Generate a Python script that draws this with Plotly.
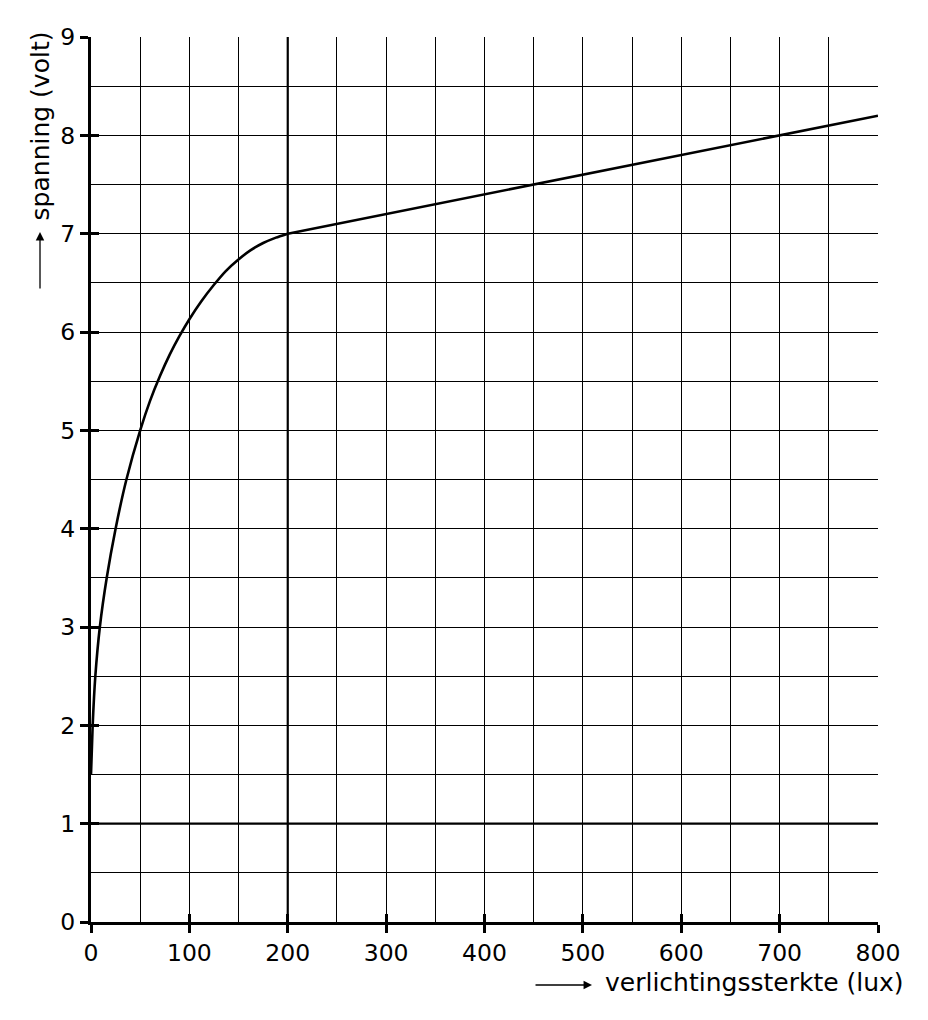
import plotly.graph_objects as go

curve_lux = [0, 1.7, 4.4, 9, 16, 25, 36, 50, 60, 70, 80, 90, 100, 112, 125, 137, 149, 162, 175, 188, 200]
curve_volt = [1.5, 2.0, 2.5, 3.0, 3.5, 4.0, 4.5, 5.0, 5.3, 5.55, 5.77, 5.96, 6.13, 6.31, 6.48,
              6.62, 6.73, 6.83, 6.905, 6.96, 7.0]

# recht deel (200 - 800 lux)
line_lux = [200, 800]
line_volt = [7.0, 8.2]

x_ticks = [0, 100, 200, 300, 400, 500, 600, 700, 800]
y_ticks = [0, 1, 2, 3, 4, 5, 6, 7, 8, 9]

# dikkere hulplijnen
ref_lux = [200]
ref_volt = [1]

FONT = "DejaVu Sans"

fig = go.Figure()

fig.add_trace(go.Scatter(
    x=curve_lux, y=curve_volt, mode="lines",
    line=dict(color="black", width=2.6, shape="spline", smoothing=0.5),
    showlegend=False, hoverinfo="skip"
))
fig.add_trace(go.Scatter(
    x=line_lux, y=line_volt, mode="lines",
    line=dict(color="black", width=2.6),
    showlegend=False, hoverinfo="skip"
))
# onzichtbare trace zodat de tweede assen (streepjes naar binnen) getekend worden
fig.add_trace(go.Scatter(x=line_lux, y=line_volt, xaxis="x2", yaxis="y2",
                         mode="none", showlegend=False, hoverinfo="skip"))

for v in ref_lux:
    fig.add_vline(x=v, line=dict(color="black", width=2.2), layer="below")
for v in ref_volt:
    fig.add_hline(y=v, line=dict(color="black", width=2.2), layer="below")

tick_font = dict(family=FONT, size=23.5, color="black")

fig.update_xaxes(
    range=[0, 800], tickvals=x_ticks, showgrid=True, gridcolor="black", gridwidth=1,
    minor=dict(dtick=50, showgrid=True, gridcolor="black", gridwidth=1),
    showline=True, linecolor="black", linewidth=3,
    ticks="outside", ticklen=8, tickwidth=2.5, tickcolor="black",
    tickfont=tick_font, zeroline=False
)
fig.update_yaxes(
    range=[0, 9], tickvals=y_ticks, showgrid=True, gridcolor="black", gridwidth=1,
    minor=dict(dtick=0.5, showgrid=True, gridcolor="black", gridwidth=1),
    showline=True, linecolor="black", linewidth=3,
    ticks="outside", ticklen=8, tickwidth=2.5, tickcolor="black",
    tickfont=tick_font, zeroline=False
)

# asbijschriften met pijltjes
fig.add_annotation(
    text="verlichtingssterkte (lux)", xref="paper", yref="paper",
    x=1.035, y=-0.0678, xanchor="right", yanchor="middle", showarrow=False,
    font=dict(family=FONT, size=25, color="black")
)
fig.add_annotation(
    text="", xref="paper", yref="paper", x=0.6366, y=-0.0712,
    ax=-58, ay=0, showarrow=True, arrowhead=2, arrowsize=1.3, arrowwidth=1.3,
    arrowcolor="black", standoff=0, startstandoff=0
)
fig.add_annotation(
    text="spanning (volt)", xref="paper", yref="paper", textangle=-90,
    x=-0.0648, y=1.008, xanchor="center", yanchor="top", showarrow=False,
    font=dict(family=FONT, size=25, color="black")
)
fig.add_annotation(
    text="", xref="paper", yref="paper", x=-0.0648, y=0.7797,
    ax=0, ay=58, showarrow=True, arrowhead=2, arrowsize=1.3, arrowwidth=1.3,
    arrowcolor="black", standoff=0, startstandoff=0
)

fig.update_layout(
    width=928, height=1020,
    margin=dict(l=83, r=58, t=29, b=106),
    plot_bgcolor="white", paper_bgcolor="white",
    font=dict(family=FONT, color="black"),
    xaxis2=dict(overlaying="x", matches="x", anchor="y2", side="bottom",
                tickvals=x_ticks, ticks="inside", ticklen=8, tickwidth=2.5,
                tickcolor="black", showticklabels=False, showgrid=False,
                showline=False, zeroline=False),
    yaxis2=dict(overlaying="y", matches="y", anchor="x2", side="left",
                tickvals=y_ticks, ticks="inside", ticklen=8, tickwidth=2.5,
                tickcolor="black", showticklabels=False, showgrid=False,
                showline=False, zeroline=False),
)

fig.write_html("out.html")
